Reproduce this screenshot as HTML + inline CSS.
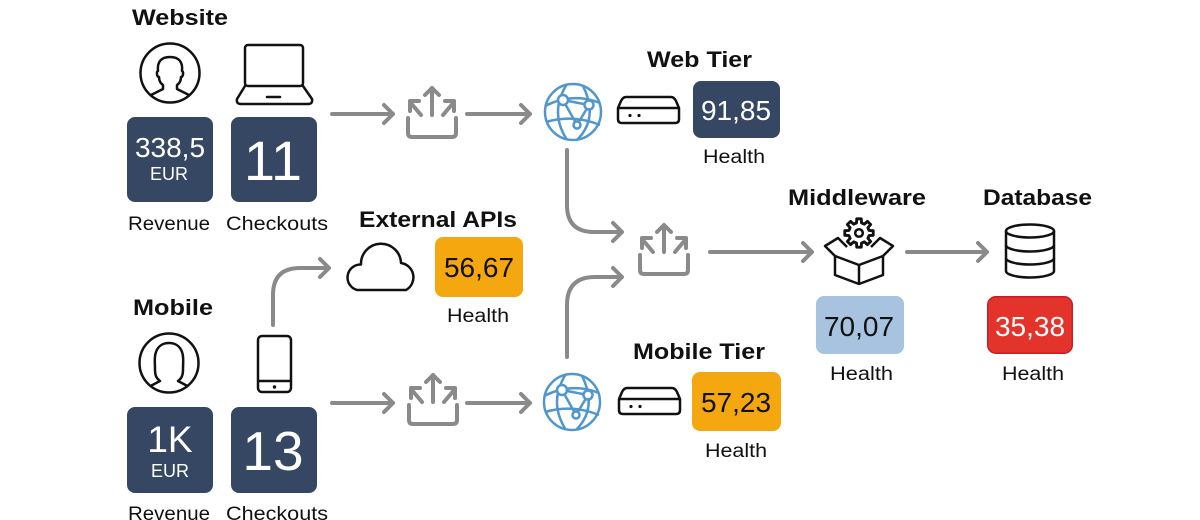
<!DOCTYPE html>
<html><head><meta charset="utf-8"><style>
html,body{margin:0;padding:0;background:#fff;}
svg{display:block;}
text{font-family:"Liberation Sans",sans-serif;}
.t{font-weight:bold;font-size:22px;fill:#111;}
.l{font-size:19px;fill:#111;}
</style></head><body>
<svg width="1200" height="520" viewBox="0 0 1200 520" xmlns="http://www.w3.org/2000/svg">
<defs>
  <g id="share" fill="none" stroke="#8a8a8a" stroke-width="4" stroke-linecap="round" stroke-linejoin="round">
    <path d="M2,32 L2,47 Q2,51 6,51 L46,51 Q50,51 50,47 L50,32"/>
    <path d="M26,29 L26,2 M19,9 L26,2 L33,9"/>
    <path d="M15,29 L4,16 M4,25 L4,15 L13,15"/>
    <path d="M37,29 L48,16 M48,25 L48,15 L39,15"/>
  </g>
  <g id="globe" fill="none" stroke="#5196cd" stroke-width="2.5">
    <circle cx="0" cy="0" r="28"/>
    <path d="M-6,-28 Q-24,0 -6,28"/>
    <path d="M10,-26 Q26,6 4,28"/>
    <path d="M-28,-6 Q0,-20 27,-9"/>
    <path d="M-27,10 Q0,2 27,13"/>
    <path d="M-10,-12 L16,-7 L4,13 Z"/>
    <circle cx="-10" cy="-12" r="5" fill="#fff"/>
    <circle cx="16" cy="-7" r="4.5" fill="#fff"/>
    <circle cx="4" cy="13" r="3.5" fill="#fff"/>
  </g>
  <g id="server" fill="none" stroke="#111" stroke-width="2.5" stroke-linejoin="round">
    <path d="M8,0 L53,0 Q56,0 58,4 L61,11 L61,22 Q61,26 57,26 L4,26 Q0,26 0,22 L0,11 L3,4 Q5,0 8,0 Z"/>
    <path d="M0,11 L61,11"/>
    <circle cx="12" cy="18.5" r="1.6" fill="#111" stroke="none"/>
    <circle cx="21" cy="18.5" r="1.6" fill="#111" stroke="none"/>
  </g>
</defs>

<!-- connectors -->
<g fill="none" stroke="#8a8a8a" stroke-width="4" stroke-linecap="round" stroke-linejoin="round">
  <path d="M332,114 L393,114 M384,105 L393,114 L384,123"/>
  <path d="M467,114 L530,114 M521,105 L530,114 L521,123"/>
  <path d="M332,403 L393,403 M384,394 L393,403 L384,412"/>
  <path d="M467,403 L530,403 M521,394 L530,403 L521,412"/>
  <path d="M710,252 L812,252 M803,243 L812,252 L803,261"/>
  <path d="M907,252 L987,252 M978,243 L987,252 L978,261"/>
  <path d="M567,150 L567,205 Q567,232 594,232 L622,232 M613,223 L622,232 L613,241"/>
  <path d="M567,357 L567,305 Q567,277 595,277 L622,277 M613,268 L622,277 L613,286"/>
  <path d="M273,325 L273,295 Q273,268 300,268 L329,268 M320,259 L329,268 L320,277"/>
</g>

<use href="#share" x="406" y="86"/>
<use href="#share" x="638" y="223"/>
<use href="#share" x="407" y="373"/>

<use href="#globe" x="573" y="112"/>
<use href="#globe" x="572" y="402"/>

<use href="#server" x="618" y="97"/>
<use href="#server" x="619" y="388"/>

<!-- persons -->
<g fill="none" stroke="#111" stroke-width="2.5" stroke-linejoin="round">
  <circle cx="170" cy="73" r="29.5"/>
  <path d="M150.5,95.2 L163,89 L163,85 C160,83 159,80 159,77 C157,77 156,72 158,71 C157,62 161,57 170,57 C179,57 183,62 182,71 C184,72 183,77 181,77 C181,80 180,83 177,85 L177,89 L189.5,95.2"/>
  <circle cx="169" cy="363" r="29.5"/>
  <path d="M150.5,386 L160,381 C156,378 155,375 155,369 C155,362 154,357 156,352 C158,346 163,343 169,343 C175,343 180,346 182,352 C184,357 183,362 183,369 C183,375 182,378 178,381 L187.5,386"/>
</g>

<!-- laptop -->
<g fill="none" stroke="#111" stroke-width="2.5" stroke-linejoin="round" stroke-linecap="round">
  <rect x="245" y="45" width="58" height="41" rx="3"/>
  <path d="M245,86 L237,99 Q236,104 241,104 L308,104 Q313,104 312,99 L303,86"/>
  <path d="M267,97 L280,97"/>
</g>
<!-- phone -->
<g fill="none" stroke="#111" stroke-width="2.5">
  <rect x="258" y="336" width="33" height="56" rx="4"/>
  <path d="M258,381 L291,381"/>
  <circle cx="274.5" cy="387" r="1.7" fill="#111" stroke="none"/>
</g>
<!-- cloud -->
<path d="M357,290 A13,13 0 0 1 361,264.5 A20,20 0 0 1 401,263 A14.5,14.5 0 0 1 406,290 Z" fill="none" stroke="#111" stroke-width="2.5" stroke-linejoin="round"/>

<!-- middleware -->
<g fill="none" stroke="#111" stroke-width="2.5" stroke-linejoin="round">
  <path transform="translate(859,233) scale(1.15)" d="M8.73,-2.18 L12.35,-1.96 L12.35,1.96 L8.73,2.18 L7.71,4.64 L10.11,7.35 L7.35,10.11 L4.64,7.71 L2.18,8.73 L1.96,12.35 L-1.96,12.35 L-2.18,8.73 L-4.64,7.71 L-7.35,10.11 L-10.11,7.35 L-7.71,4.64 L-8.73,2.18 L-12.35,1.96 L-12.35,-1.96 L-8.73,-2.18 L-7.71,-4.64 L-10.11,-7.35 L-7.35,-10.11 L-4.64,-7.71 L-2.18,-8.73 L-1.96,-12.35 L1.96,-12.35 L2.18,-8.73 L4.64,-7.71 L7.35,-10.11 L10.11,-7.35 L7.71,-4.64 Z"/>
  <circle cx="859" cy="233" r="3.8"/>
  <path d="M835,256 L835,275 L859,284 L883,275 L883,256"/>
  <path d="M835,256 L859,265 L883,256 M859,265 L859,284"/>
  <path d="M835,256 L825,246 L838,238 L847,247"/>
  <path d="M883,256 L893,246 L880,238 L871,247"/>
</g>

<!-- database -->
<g fill="none" stroke="#111" stroke-width="2.5">
  <ellipse cx="1030" cy="231" rx="24" ry="6.5"/>
  <path d="M1006,231 L1006,271 A24,6.5 0 0 0 1054,271 L1054,231"/>
  <path d="M1006,245 A24,6.5 0 0 0 1054,245"/>
  <path d="M1006,258 A24,6.5 0 0 0 1054,258"/>
</g>

<!-- boxes -->
<g>
  <rect x="127" y="117" width="86" height="85" rx="8" fill="#354762"/>
  <rect x="231" y="117" width="86" height="85" rx="8" fill="#354762"/>
  <rect x="127" y="407" width="86" height="86" rx="8" fill="#354762"/>
  <rect x="231" y="407" width="86" height="86" rx="8" fill="#354762"/>
  <rect x="693" y="81" width="87" height="57" rx="8" fill="#354762"/>
  <rect x="435" y="237" width="88" height="60" rx="8" fill="#f5a70f"/>
  <rect x="692" y="372" width="89" height="59" rx="8" fill="#f5a70f"/>
  <rect x="816" y="296" width="88" height="58" rx="8" fill="#a7c3df"/>
  <rect x="987.75" y="296.75" width="84.5" height="56.5" rx="8" fill="#e3332a" stroke="#c81d25" stroke-width="1.5"/>
</g>

<!-- numbers -->
<g text-anchor="middle">
  <text x="170" y="157" font-size="28" fill="#fff">338,5</text>
  <text x="169" y="180" font-size="18" fill="#fff">EUR</text>
  <text x="273" y="180" font-size="56" fill="#fff">11</text>
  <text x="170" y="452" font-size="37" fill="#fff">1K</text>
  <text x="170" y="477" font-size="18" fill="#fff">EUR</text>
  <text x="273" y="470" font-size="55" fill="#fff">13</text>
  <text x="736" y="120" font-size="28" fill="#fff">91,85</text>
  <text x="479" y="277" font-size="28" fill="#111">56,67</text>
  <text x="736" y="412" font-size="28" fill="#111">57,23</text>
  <text x="859" y="336" font-size="28" fill="#111">70,07</text>
  <text x="1030" y="336" font-size="28" fill="#fff">35,38</text>
</g>

<!-- titles -->
<text class="t" x="132" y="25" textLength="96" lengthAdjust="spacingAndGlyphs">Website</text>
<text class="t" x="133" y="315" textLength="80" lengthAdjust="spacingAndGlyphs">Mobile</text>
<text class="t" x="647" y="67" textLength="105" lengthAdjust="spacingAndGlyphs">Web Tier</text>
<text class="t" x="359" y="227" textLength="158" lengthAdjust="spacingAndGlyphs">External APIs</text>
<text class="t" x="788" y="205" textLength="138" lengthAdjust="spacingAndGlyphs">Middleware</text>
<text class="t" x="983" y="205" textLength="109" lengthAdjust="spacingAndGlyphs">Database</text>
<text class="t" x="633" y="359" textLength="132" lengthAdjust="spacingAndGlyphs">Mobile Tier</text>

<!-- labels -->
<text class="l" x="128" y="230" textLength="82" lengthAdjust="spacingAndGlyphs">Revenue</text>
<text class="l" x="226" y="230" textLength="102" lengthAdjust="spacingAndGlyphs">Checkouts</text>
<text class="l" x="128" y="520" textLength="82" lengthAdjust="spacingAndGlyphs">Revenue</text>
<text class="l" x="226" y="520" textLength="102" lengthAdjust="spacingAndGlyphs">Checkouts</text>
<text class="l" x="703" y="163" textLength="62" lengthAdjust="spacingAndGlyphs">Health</text>
<text class="l" x="447" y="322" textLength="62" lengthAdjust="spacingAndGlyphs">Health</text>
<text class="l" x="830" y="380" textLength="63" lengthAdjust="spacingAndGlyphs">Health</text>
<text class="l" x="1002" y="380" textLength="62" lengthAdjust="spacingAndGlyphs">Health</text>
<text class="l" x="705" y="457" textLength="62" lengthAdjust="spacingAndGlyphs">Health</text>
</svg>
</body></html>
